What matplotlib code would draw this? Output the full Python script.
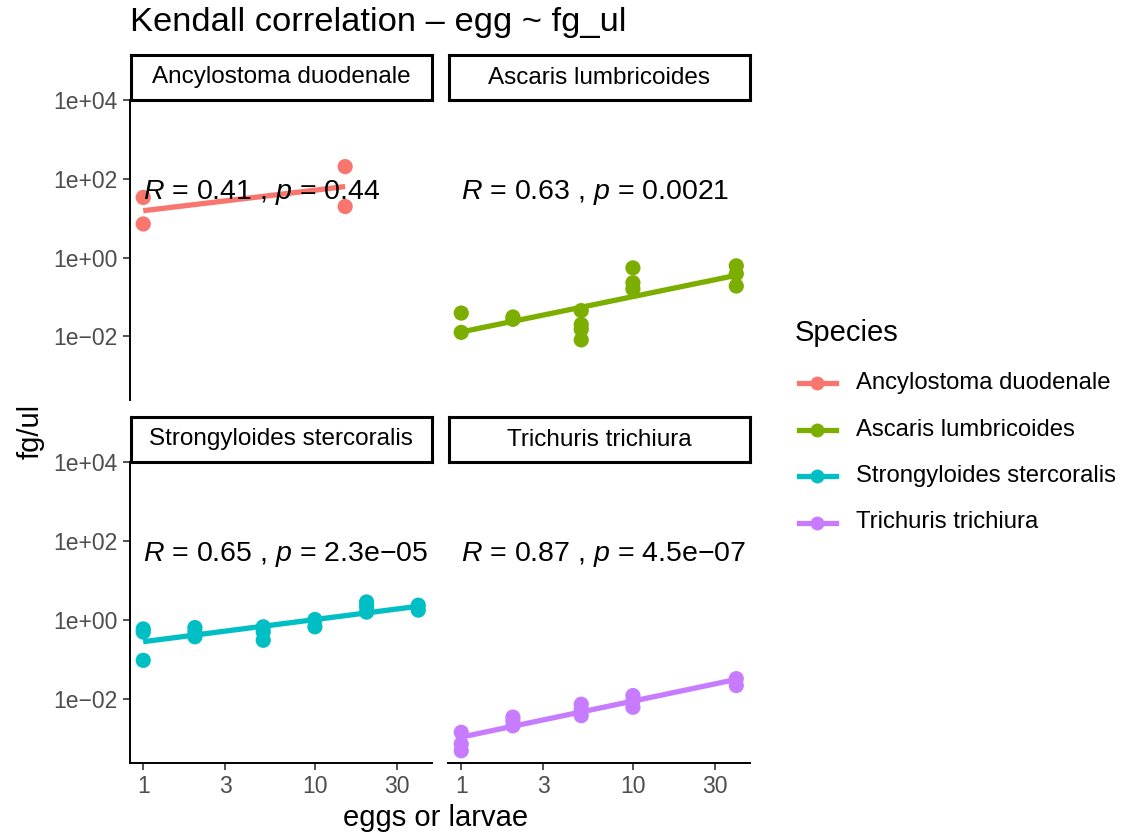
import numpy as np
import matplotlib
matplotlib.use("Agg")
import matplotlib.pyplot as plt
from matplotlib.lines import Line2D

plt.rcParams['font.family'] = ['Liberation Sans', 'DejaVu Sans']
plt.rcParams['mathtext.fontset'] = 'custom'
plt.rcParams['mathtext.rm'] = 'Liberation Sans'
plt.rcParams['mathtext.it'] = 'Liberation Sans:italic'

species = ["Ancylostoma duodenale", "Ascaris lumbricoides",
           "Strongyloides stercoralis", "Trichuris trichiura"]
colors = ["#F8766D", "#7CAE00", "#00BFC4", "#C77CFF"]

anc_x = [1, 1, 15, 15]
anc_y = [34, 7.2, 207, 20]
asc_x = [1, 1, 2, 2, 5, 5, 5, 5, 10, 10, 10, 40, 40, 40]
asc_y = [0.039, 0.0126, 0.027, 0.031, 0.045, 0.020, 0.015, 0.0081,
         0.55, 0.23, 0.16, 0.62, 0.39, 0.19]
str_x = [1, 1, 1, 2, 2, 2, 5, 5, 5, 10, 10, 20, 20, 20, 40, 40]
str_y = [0.6, 0.5, 0.096, 0.65, 0.5, 0.38, 0.68, 0.5, 0.31, 1.04, 0.68,
         2.9, 2.2, 1.6, 2.4, 1.8]
tri_x = [1, 1, 1, 2, 2, 2, 5, 5, 5, 10, 10, 10, 40, 40]
tri_y = [0.00144, 0.00073, 0.00049, 0.0035, 0.0028, 0.0021, 0.0074, 0.0055,
         0.0038, 0.0123, 0.009, 0.0062, 0.033, 0.022]

xs = [anc_x, asc_x, str_x, tri_x]
ys = [anc_y, asc_y, str_y, tri_y]
labels = ["$\\mathit{R}$ = 0.41 , $\\mathit{p}$ = 0.44",
          "$\\mathit{R}$ = 0.63 , $\\mathit{p}$ = 0.0021",
          "$\\mathit{R}$ = 0.65 , $\\mathit{p}$ = 2.3e\u221205",
          "$\\mathit{R}$ = 0.87 , $\\mathit{p}$ = 4.5e\u221207"]
label_y = 10 ** 1.5

y_ticks = [1e4, 1e2, 1, 1e-2]
y_ticklabels = ["1e+04", "1e+02", "1e+00", "1e\u221202"]
x_ticks = [1, 3, 10, 30]
x_ticklabels = ["1", "3", "10", "30"]

W, H = 1122, 839
fig = plt.figure(figsize=(W / 100, H / 100), dpi=100)


def px_axes(x0, y0, x1, y1):
    return fig.add_axes([x0 / W, 1 - y1 / H, (x1 - x0) / W, (y1 - y0) / H])


cols = [(129.5, 432), (447.5, 750)]
rows = [(100, 400, 55), (462, 763, 417)]

for i in range(4):
    r, c = divmod(i, 2)
    x0, x1 = cols[c]
    y0, y1, s0 = rows[r]
    ax = px_axes(x0, y0, x1, y1)
    ax.set_xscale("log")
    ax.set_yscale("log")
    ax.set_xlim(10 ** -0.080, 10 ** 1.682)
    ax.set_ylim(10 ** -3.62, 10 ** 4.01)
    ax.minorticks_off()

    x = np.array(xs[i], dtype=float)
    y = np.array(ys[i], dtype=float)
    b, a = np.polyfit(np.log10(x), np.log10(y), 1)
    xf = np.array([x.min(), x.max()])
    ax.plot(xf, 10 ** (a + b * np.log10(xf)), color=colors[i], lw=3.8,
            solid_capstyle="butt", zorder=2)
    ax.scatter(x, y, s=120, color=colors[i], edgecolors="none", zorder=3)
    ax.text(1, label_y, labels[i], fontsize=20.5, ha="left", va="baseline",
            zorder=4)

    for sp in ["top", "right"]:
        ax.spines[sp].set_visible(False)
    ax.spines["left"].set_linewidth(1.4)
    ax.spines["bottom"].set_linewidth(1.4)
    ax.tick_params(colors="#333333", labelcolor="#4D4D4D", labelsize=16.5,
                   width=1.2, length=5)
    if c == 0:
        ax.set_yticks(y_ticks)
        ax.set_yticklabels(y_ticklabels)
    else:
        ax.spines["left"].set_visible(False)
        ax.set_yticks([])
    if r == 1:
        ax.set_xticks(x_ticks)
        ax.set_xticklabels(x_ticklabels)
    else:
        ax.spines["bottom"].set_visible(False)
        ax.set_xticks([])

    st = px_axes(x0 + 1, s0, x1, y0)
    st.set_xticks([])
    st.set_yticks([])
    for sp in st.spines.values():
        sp.set_linewidth(2.2)
        sp.set_color("black")
    st.text(0.5, 0.5, species[i], fontsize=17.5, ha="center", va="center",
            transform=st.transAxes)

fig.text(130 / W, 1 - 22 / H, "Kendall correlation \u2013 egg ~ fg_ul",
         fontsize=24.8, ha="left", va="center")
fig.text(436 / W, 1 - 818 / H, "eggs or larvae", fontsize=21,
         ha="center", va="center")
fig.text(31 / W, 1 - 431 / H, "fg/ul", fontsize=21, rotation=90,
         ha="center", va="center")

leg = fig.add_axes([0, 0, 1, 1], zorder=-1)
leg.set_xlim(0, W)
leg.set_ylim(H, 0)
leg.axis("off")
leg.text(795, 333, "Species", fontsize=21, ha="left", va="center")
for i, name in enumerate(species):
    yy = 383 + 46.5 * i
    leg.add_line(Line2D([799, 836], [yy, yy], color=colors[i], lw=3.8))
    leg.plot([817.5], [yy], "o", color=colors[i], ms=10, mec="none")
    leg.text(856, yy, name, fontsize=17.2, ha="left", va="center")

fig.savefig("out.png", dpi=100)
